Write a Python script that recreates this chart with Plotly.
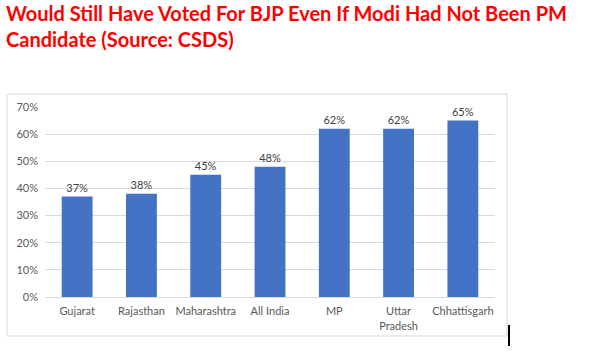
import plotly.graph_objects as go

categories = ["Gujarat", "Rajasthan", "Maharashtra", "All India", "MP", "Uttar<br>Pradesh", "Chhattisgarh"]
values = [37, 38, 45, 48, 62, 62, 65]
y_ticks = [0, 10, 20, 30, 40, 50, 60, 70]
y_tick_labels = [f"{v}%" for v in y_ticks]
title_line1 = "Would Still Have Voted For BJP Even If Modi Had Not Been PM"
title_line2 = "Candidate (Source: CSDS)"

W, H = 610, 357
L, R, T, B = 45, 495, 107, 297  # plot area pixels

FONT = "Lato, Open Sans, sans-serif"

fig = go.Figure(go.Bar(
    x=categories, y=values,
    marker=dict(color="#4472C4", line=dict(width=0)),
    text=[f"{v}%" for v in values], textposition="outside",
    textfont=dict(family=FONT, size=11, color="#404040"),
    cliponaxis=False,
))

def px_x(p):
    return (p - L) / (R - L)

def px_y(p):
    return (B - p) / (B - T)

title_font = dict(family=FONT, size=20, color="#FF0000", weight="bold")

fig.update_layout(
    width=W, height=H,
    margin=dict(l=L, r=W - R, t=T, b=H - B, pad=0),
    paper_bgcolor="white", plot_bgcolor="white",
    bargap=0.52,
    showlegend=False,
    xaxis=dict(showgrid=False, showline=True, linecolor="#d9d9d9", linewidth=1,
               ticks="", tickfont=dict(family=FONT, size=11, color="#595959"),
               ticklabelstandoff=4, fixedrange=True),
    yaxis=dict(range=[0, 70], tickvals=y_ticks, ticktext=y_tick_labels,
               showgrid=True, gridcolor="#d9d9d9", gridwidth=1, zeroline=False,
               showline=False, ticks="", ticklabelstandoff=6,
               tickfont=dict(family=FONT, size=11, color="#595959"),
               fixedrange=True),
    annotations=[
        dict(text=title_line1, xref="paper", yref="paper", x=px_x(5), y=px_y(0),
             xanchor="left", yanchor="top", align="left", showarrow=False, borderpad=0,
             font=title_font),
        dict(text=title_line2, xref="paper", yref="paper", x=px_x(5), y=px_y(26),
             xanchor="left", yanchor="top", align="left", showarrow=False, borderpad=0,
             font=title_font),
    ],
    shapes=[
        dict(type="rect", xref="paper", yref="paper",
             x0=px_x(7), x1=px_x(507), y0=px_y(336), y1=px_y(94),
             line=dict(color="#d9d9d9", width=1), fillcolor="rgba(0,0,0,0)", layer="below"),
        dict(type="line", xref="paper", yref="paper",
             x0=px_x(509), x1=px_x(509), y0=px_y(346), y1=px_y(325),
             line=dict(color="black", width=2)),
    ],
)

fig.write_html("out.html", config={"displayModeBar": False},
               post_script="document.body.style.margin='0';document.body.style.padding='0';")
